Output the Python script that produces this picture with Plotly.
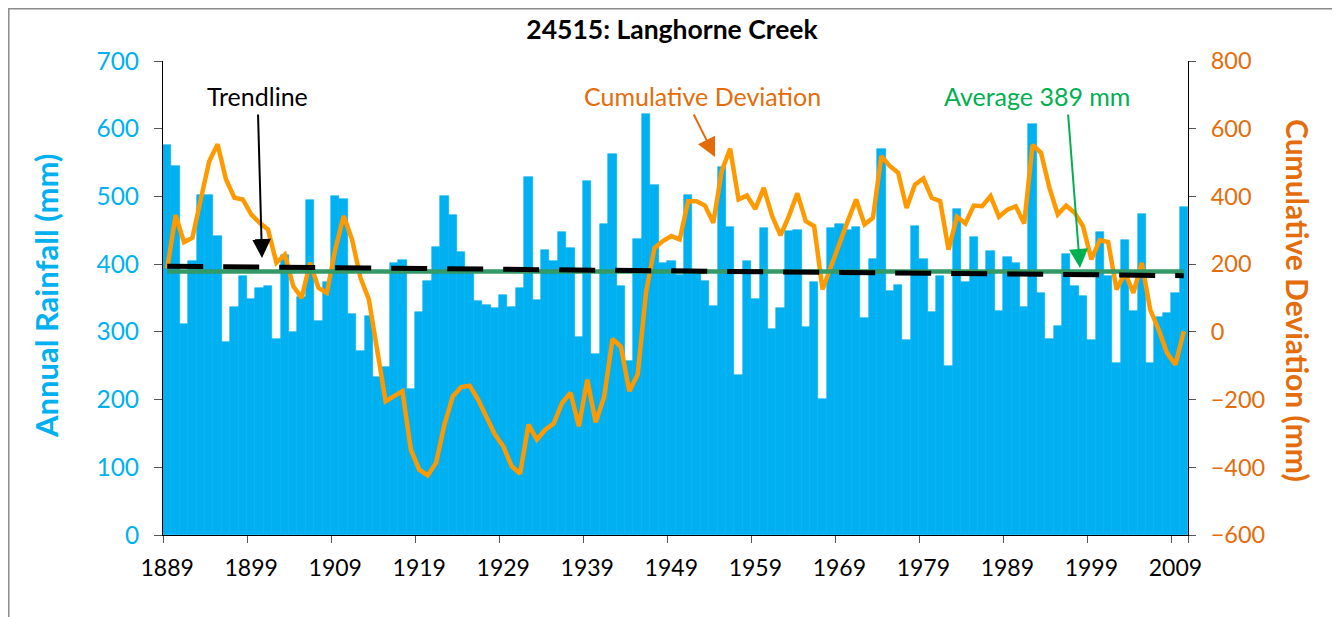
import plotly.graph_objects as go

# ---------------- data ----------------
first_year = 1889
rainfall = [
    576, 545, 312, 404, 502, 502, 441, 285, 337, 383,   # 1889-1898
    348, 365, 368, 290, 413, 300, 352, 495, 316, 374,   # 1899-1908
    501, 496, 326, 272, 323, 234, 248, 401, 406, 216,   # 1909-1918
    330, 375, 425, 500, 473, 418, 392, 346, 340, 335,   # 1919-1928
    354, 336, 365, 528, 347, 421, 404, 447, 424, 292,   # 1929-1938
    523, 267, 460, 562, 368, 257, 437, 622, 517, 401,   # 1939-1948
    405, 384, 502, 392, 375, 338, 543, 455, 237, 404,   # 1949-1958
    349, 453, 304, 335, 449, 451, 307, 373, 201, 454,   # 1959-1968
    460, 450, 455, 320, 407, 570, 361, 369, 288, 456,   # 1969-1978
    407, 330, 382, 250, 482, 373, 440, 388, 419, 331,   # 1979-1988
    410, 401, 336, 607, 358, 290, 309, 415, 368, 353,   # 1989-1998
    288, 447, 383, 254, 436, 331, 474, 254, 322, 328,   # 1999-2008
    358, 484,                                           # 2009-2010
]
cum_dev = [
    187, 345, 265, 278, 392, 504, 554, 450, 396, 391,
    347, 322, 302, 204, 228, 135, 100, 204, 130, 115,
    243, 342, 273, 160, 96, -62, -205, -190, -175, -348,
    -407, -424, -387, -274, -190, -163, -159, -200, -249, -303,
    -338, -397, -419, -274, -318, -289, -271, -210, -180, -279,
    -141, -267, -193, -21, -44, -175, -126, 118, 248, 268,
    283, 273, 386, 386, 373, 322, 475, 541, 391, 403,
    363, 425, 342, 285, 342, 409, 327, 312, 125, 194,
    263, 327, 391, 317, 337, 519, 490, 470, 366, 435,
    453, 396, 386, 243, 340, 320, 373, 371, 401, 340,
    361, 371, 320, 552, 529, 426, 347, 373, 352, 312,
    214, 271, 265, 125, 174, 115, 204, 66, 7, -62,
    -97, 2,
]
years = list(range(first_year, first_year + len(rainfall)))
average_mm = 389
trend_ends = [397, 383]            # trendline value at first / last year
tick_years = list(range(1889, 2010, 10))

title_text = "24515: Langhorne Creek"
left_title = "Annual Rainfall (mm)"
right_title = "Cumulative Deviation (mm)"

# ---------------- styling ----------------
OFF = 8                      # page body margin
PAGE_W, PAGE_H = 1340, 617
W, H = PAGE_W - OFF, PAGE_H - OFF
PL, PR, PT, PB = 163, 1188, 61, 535   # plot area in page pixels
L, R, T, B = PL - OFF, PAGE_W - PR, PT - OFF, PAGE_H - PB
FONT = "Lato"
BLUE = "#00B0F0"
ORANGE_LINE = "#FF9900"
ORANGE_TEXT = "#E46C0A"
GREEN_LINE = "#339966"
GREEN_TEXT = "#00B050"

pw, ph = PR - PL, PB - PT


def px(x):  # page pixel -> paper x
    return (x - PL) / pw


def py(y):  # page pixel -> paper y
    return (PB - y) / ph


xr = [years[0] - 0.5, years[-1] + 0.5]

fig = go.Figure()
fig.add_bar(x=years, y=rainfall, marker=dict(color=BLUE, line=dict(width=0.6, color=BLUE)),
            width=1.0, name="Annual rainfall", xaxis="x", yaxis="y")
fig.add_scatter(x=[years[0], years[-1]], y=[average_mm, average_mm], mode="lines",
                line=dict(color=GREEN_LINE, width=4.5), xaxis="x2", yaxis="y", name="Average")
fig.add_scatter(x=[years[0], years[-1]], y=trend_ends, mode="lines",
                line=dict(color="black", width=5, dash="36px,20px"), xaxis="x2", yaxis="y",
                name="Trendline")
fig.add_scatter(x=years, y=cum_dev, mode="lines", line=dict(color=ORANGE_LINE, width=4.5),
                xaxis="x", yaxis="y2", name="Cumulative Deviation")

fig.update_layout(
    width=W, height=H,
    margin=dict(l=L, r=R, t=T, b=B),
    paper_bgcolor="white", plot_bgcolor="white",
    showlegend=False, bargap=0,
    title=dict(text="<b>" + title_text + "</b>", x=(672 - OFF) / W, xref="container",
               xanchor="center", y=1 - (30 - OFF) / H, yref="container", yanchor="middle",
               font=dict(family=FONT, size=26.5, color="black")),
    xaxis=dict(range=xr, tickvals=tick_years, ticktext=[str(y) for y in tick_years],
               ticks="", showline=True, linecolor="black", linewidth=1, showgrid=False,
               zeroline=False, tickfont=dict(family=FONT, size=23, color="black"),
               ticklabelstandoff=12),
    xaxis2=dict(range=xr, overlaying="x", anchor="y", side="bottom",
                tickvals=[y - 0.5 for y in tick_years] + [years[-1] + 0.5],
                ticks="outside", ticklen=7, tickcolor="#555", tickwidth=1,
                showticklabels=False, showline=False, showgrid=False, zeroline=False),
    yaxis=dict(range=[0, 700], dtick=100, ticks="outside", ticklen=8, tickcolor="#555",
               showline=True, linecolor="black", linewidth=1, showgrid=False, zeroline=False,
               tickfont=dict(family=FONT, size=24.5, color=BLUE), ticklabelstandoff=10),
    yaxis2=dict(range=[-600, 800], dtick=200, overlaying="y", side="right", anchor="x",
                ticks="outside", ticklen=7, tickcolor="#555",
                showline=True, linecolor="black", linewidth=1, showgrid=False, zeroline=False,
                tickfont=dict(family=FONT, size=23.5, color=ORANGE_TEXT), ticklabelstandoff=10),
)

ann = []
# axis titles
ann.append(dict(text="<b>" + left_title + "</b>", xref="paper", yref="paper", x=px(46), y=py(296),
                textangle=-90, showarrow=False, font=dict(family=FONT, size=31, color=BLUE),
                xanchor="center", yanchor="middle"))
ann.append(dict(text="<b>" + right_title + "</b>", xref="paper", yref="paper", x=px(1298), y=py(300),
                textangle=90, showarrow=False, font=dict(family=FONT, size=30, color=ORANGE_TEXT),
                xanchor="center", yanchor="middle"))
# labels
for txt, cx, col in [("Trendline", 257, "black"), ("Cumulative Deviation", 702, ORANGE_TEXT),
                     ("Average 389 mm", 1037, GREEN_TEXT)]:
    ann.append(dict(text=txt, xref="paper", yref="paper", x=px(cx), y=py(96), showarrow=False,
                    font=dict(family=FONT, size=25, color=col), xanchor="center", yanchor="middle"))
# arrows (tip, tail in page pixels)
for (tx, ty), (sx, sy), col in [((262, 258), (258, 113), "black"),
                                ((715, 157), (693, 113), "#E36C09"),
                                ((1080, 268), (1068, 113), "#00B050")]:
    ann.append(dict(text="", xref="paper", yref="paper", x=px(tx), y=py(ty), ax=sx - tx, ay=sy - ty,
                    axref="pixel", ayref="pixel", showarrow=True, arrowhead=2, arrowsize=1.9,
                    arrowwidth=2, arrowcolor=col))
fig.update_layout(annotations=ann)

# outer chart border
fig.add_shape(type="rect", xref="paper", yref="paper", x0=px(OFF + 0.8), x1=px(1338), y0=py(660),
              y1=py(OFF + 0.8), line=dict(color="#8C8C8C", width=1.5),
              fillcolor="rgba(0,0,0,0)", layer="below")

fig.write_html("out.html")
